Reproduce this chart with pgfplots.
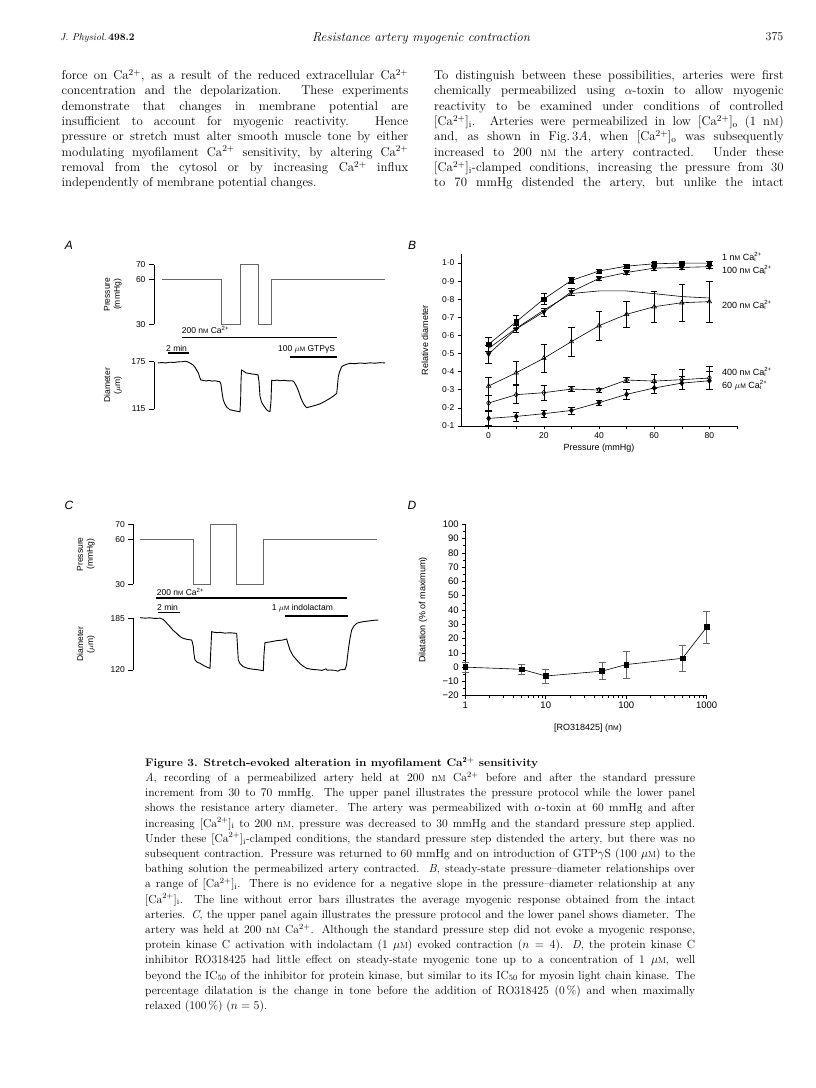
\documentclass[border=0pt]{standalone}
\usepackage{fontspec}
\usepackage{graphicx}
\usepackage{pgfplots}
\pgfplotsset{compat=1.18}
\newfontfamily\figfont{Liberation Sans}
\newcommand\scm{\scalebox{0.75}{M}}
\newcommand\Cai{Ca\rlap{\textsuperscript{2+}}\textsubscript{i}}
\newcommand\jline[2]{\sbox0{#2}\ifdim\wd0>#1\relax\resizebox{#1}{\height}{#2}\else\makebox[#1][s]{#2}\fi}
\newcommand\bodyfont{\fontsize{12.8}{15}\selectfont}
\newcommand\capfont{\fontsize{11.7}{14}\selectfont}
\newcommand\ff{\figfont\fontsize{8.5}{10}\selectfont}
\pgfplotsset{
  trace/.style={scale only axis, axis x line=none, axis y line*=left, tick align=outside,
    major tick length=5pt, clip=false, enlargelimits=false,
    tick label style={font=\ff}, label style={font=\ff, align=center},
    axis line style={line width=0.6pt}, tick style={line width=0.6pt, black}},
  ebar/.style={error bars/.cd, y dir=both, y explicit,
    error bar style={line width=0.6pt}, error mark options={rotate=90, mark size=3.2pt, line width=0.6pt}},
}
\begin{document}
\begin{tikzpicture}
\useasboundingbox (0,0) rectangle (816pt,-1088pt);
\fill[white] (0,0) rectangle (816pt,-1088pt);

% ---------------- header ----------------
\node[anchor=base west, inner sep=0pt, font=\fontsize{10}{12}\selectfont] at (60pt,-40pt) {\textit{J. Physiol.}\,\textbf{498.2}};
\node[anchor=base, inner sep=0pt, font=\fontsize{13}{15}\selectfont\itshape] at (421pt,-41pt) {Resistance artery myogenic contraction};
\node[anchor=base east, inner sep=0pt, font=\fontsize{12}{14}\selectfont] at (783.5pt,-40pt) {375};

% ---------------- body text ----------------
\begin{scope}[every node/.style={anchor=base west, inner sep=0pt, font=\bodyfont}]
\node at (61.5pt,-79.5pt) {\jline{346.5pt}{force on Ca$^{2+}$, as a result of the reduced extracellular Ca$^{2+}$}};
\node at (61.5pt,-94.85pt) {\jline{346.5pt}{concentration and the depolarization. These experiments}};
\node at (61.5pt,-110.2pt) {\jline{346.5pt}{demonstrate that changes in membrane potential are}};
\node at (61.5pt,-125.55pt) {\jline{346.5pt}{insufficient to account for myogenic reactivity. Hence}};
\node at (61.5pt,-140.9pt) {\jline{346.5pt}{pressure or stretch must alter smooth muscle tone by either}};
\node at (61.5pt,-156.25pt) {\jline{346.5pt}{modulating myofilament Ca$^{2+}$ sensitivity, by altering Ca$^{2+}$}};
\node at (61.5pt,-171.6pt) {\jline{346.5pt}{removal from the cytosol or by increasing Ca$^{2+}$ influx}};
\node at (61.5pt,-186.95pt) {independently of membrane potential changes.};
\node at (434pt,-79.5pt) {\jline{349.5pt}{To distinguish between these possibilities, arteries were first}};
\node at (434pt,-94.85pt) {\jline{349.5pt}{chemically permeabilized using $\alpha$-toxin to allow myogenic}};
\node at (434pt,-110.2pt) {\jline{349.5pt}{reactivity to be examined under conditions of controlled}};
\node at (434pt,-125.55pt) {\jline{349.5pt}{[Ca$^{2+}$]$_\mathrm{i}$. Arteries were permeabilized in low [Ca$^{2+}$]$_\mathrm{o}$ (1 n\scm)}};
\node at (434pt,-140.9pt) {\jline{349.5pt}{and, as shown in Fig.\,3\textit{A}, when [Ca$^{2+}$]$_\mathrm{o}$ was subsequently}};
\node at (434pt,-156.25pt) {\jline{349.5pt}{increased to 200 n\scm{} the artery contracted. Under these}};
\node at (434pt,-171.6pt) {\jline{349.5pt}{[Ca$^{2+}$]$_\mathrm{i}$-clamped conditions, increasing the pressure from 30}};
\node at (434pt,-186.95pt) {\jline{349.5pt}{to 70 mmHg distended the artery, but unlike the intact}};
\end{scope}

% ---------------- panel letters ----------------
\begin{scope}[every node/.style={inner sep=0pt, font=\figfont\fontsize{12}{14}\selectfont\itshape}]
\node at (69pt,-245pt) {A};
\node at (412pt,-245pt) {B};
\node at (69pt,-505pt) {C};
\node at (412pt,-505pt) {D};
\end{scope}

% ---------------- Panel A ----------------
\begin{axis}[trace, at={(154pt,-324.3pt)}, anchor=south west, width=236pt, height=59.6pt,
  xmin=154, xmax=390, ymin=30, ymax=70, ytick={30,60,70}, yticklabels={30,60,70},
  ylabel={Pressure\\(mmHg)}, ylabel style={at={(axis description cs:-0.174,0.5)}, anchor=center}]
\addplot[black!60, line width=0.7pt] coordinates {(162,60) (221,60) (221,30) (240,30) (240,70) (258,70) (258,30) (271,30) (271,60) (385,60)};
\end{axis}
\begin{axis}[trace, at={(154pt,-409pt)}, anchor=south west, width=236pt, height=47.3pt,
  xmin=154, xmax=390, ymin=115, ymax=175, ytick={115,175}, yticklabels={115,175},
  ylabel={Diameter\\($\mu$m)}, ylabel style={at={(axis description cs:-0.174,0.5)}, anchor=center}]
\addplot[black, line width=0.9pt] coordinates {(158,173.5) (162,173.9) (166,173.4) (170,174.4) (174,174.0) (178,174.8) (182,175.0) (185,175.6) (187,175.2) (189,174.0) (191,172.5) (193,170.8) (195,168) (197,163.5) (198.5,160.5) (199.5,156) (200.7,152) (203,151.2) (206,150.6) (209,151.3) (212,150.4) (215,150.9) (218,150.0) (220,149.6) (221,146) (221.7,139) (222.5,132) (223.3,126.4) (225,121) (227,117) (230,114) (233,113.2) (236,112.4) (239,111.8) (240,111.4) (240.7,130) (241,150) (241.5,164.4) (243,163.5) (246,160.8) (249,160.2) (252,159.4) (255,159.0) (258,158.4) (259,150) (260,131) (261.5,124) (263.3,120) (266,115) (268,112.5) (270,111.8) (271,125) (271.7,151.5) (274,151.0) (277,151.7) (280,150.8) (284,151.4) (288,150.6) (292,150.9) (294,149.5) (296.7,143.3) (299,136) (301,128.5) (303.3,122.2) (305,119) (306.7,116.7) (310,117.8) (315,119.5) (320,121.5) (325,124.8) (330,128.5) (334,132) (336.7,134.9) (337.5,145) (338.3,156) (339.5,162) (341.7,168.7) (344,170.5) (347,171.9) (350,172.9) (355,172.5) (360,173.4) (365,172.8) (370,173.6) (375,173.1) (380,173.8) (385,173.5)};
\end{axis}
\begin{scope}[every node/.style={anchor=base west, inner sep=0pt, font=\ff}]
\node at (181.7pt,-333.3pt) {200 n\scm{} Ca\textsuperscript{2+}};
\draw[line width=1.3pt] (181.7pt,-337.7pt) -- (337.3pt,-337.7pt);
\node at (166pt,-351pt) {2 min};
\draw[line width=1.3pt] (168.3pt,-353pt) -- (189.3pt,-353pt);
\node at (278pt,-351pt) {100 $\mu$\scm{} GTPγS};
\draw[line width=1.3pt] (290pt,-357pt) -- (336.7pt,-357pt);
\end{scope}

% ---------------- Panel C ----------------
\begin{axis}[trace, at={(133.3pt,-584.3pt)}, anchor=south west, width=246.7pt, height=60pt,
  xmin=133.3, xmax=380, ymin=30, ymax=70, ytick={30,60,70}, yticklabels={30,60,70},
  ylabel={Pressure\\(mmHg)}, ylabel style={at={(axis description cs:-0.192,0.5)}, anchor=center}]
\addplot[black!60, line width=0.7pt] coordinates {(140,60) (193.3,60) (193.3,30) (210,30) (210,70) (236.7,70) (236.7,30) (263.3,30) (263.3,60) (376.7,60)};
\end{axis}
\begin{axis}[trace, at={(133.3pt,-670pt)}, anchor=south west, width=246.7pt, height=51.7pt,
  xmin=133.3, xmax=380, ymin=120, ymax=185, ytick={120,185}, yticklabels={120,185},
  ylabel={Diameter\\($\mu$m)}, ylabel style={at={(axis description cs:-0.192,0.5)}, anchor=center}]
\addplot[black, line width=0.9pt] coordinates {(140,185.8) (145,185.2) (150,185.6) (155,184.8) (160,185.2) (163.3,183.5) (166,180) (170,174.5) (173,170) (176.7,166.1) (180,162) (183.3,159.8) (187,158.5) (191.7,157.7) (192.5,154) (193.3,149.4) (194,140) (195,132.6) (197,130) (200,128.4) (204,125.5) (207,123.5) (210,122.1) (210.8,145) (211.7,168.2) (214,167.5) (216.7,167) (220,167.3) (225,166.4) (230,166.8) (236.7,166.1) (237.5,150) (238.3,132.6) (240,128) (243.3,124.2) (248,122) (253,121) (258,120.3) (263.3,119.2) (264,140) (265,154.4) (270,155.3) (276.7,156.9) (282,157.5) (286.7,159) (288,153) (290,145.2) (293,138) (296.7,132.6) (300,128) (303,125) (306.7,122.1) (312,120.8) (318,120.2) (322,119.5) (326,121.5) (327,119.8) (330,120) (335,119.6) (338,118.5) (340,120.2) (345,120.8) (346.5,126) (348.3,145.2) (350,160) (351.7,170.3) (354,175.5) (356.7,178.7) (360,180) (363.3,180.8) (368,181.5) (373,182.4) (378.3,182.9)};
\end{axis}
\begin{scope}[every node/.style={anchor=base west, inner sep=0pt, font=\ff}]
\node at (156.7pt,-595pt) {200 n\scm{} Ca\textsuperscript{2+}};
\draw[line width=1.3pt] (156pt,-598pt) -- (346.7pt,-598pt);
\node at (157pt,-610pt) {2 min};
\draw[line width=1.3pt] (158.3pt,-612.3pt) -- (180pt,-612.3pt);
\node at (271.7pt,-610pt) {1 $\mu$\scm{} indolactam};
\draw[line width=1.3pt] (285pt,-616pt) -- (347.7pt,-616pt);
\end{scope}

% ---------------- Panel B ----------------
\begin{axis}[at={(461pt,-426pt)}, anchor=south west, scale only axis, width=276pt, height=172pt,
  xmin=-10, xmax=90, ymin=0.1, ymax=1.05, enlargelimits=false, clip=false,
  axis x line*=bottom, axis y line*=left, tick align=outside,
  major tick length=3pt, minor tick length=3pt,
  xtick={0,20,40,60,80}, xticklabels={0,20,40,60,80}, minor xtick={10,30,50,70,90},
  ytick={0.1,0.2,0.3,0.4,0.5,0.6,0.7,0.8,0.9,1.0},
  yticklabels={0·1,0·2,0·3,0·4,0·5,0·6,0·7,0·8,0·9,1·0},
  tick label style={font=\ff}, label style={font=\figfont\fontsize{9}{10}\selectfont},
  tick style={line width=0.6pt, black}, axis line style={line width=0.6pt},
  xlabel={Pressure (mmHg)}, xlabel style={at={(axis description cs:0.5,-0.126)}, anchor=center},
  ylabel={Relative diameter}, ylabel style={at={(axis description cs:-0.1304,0.5)}, anchor=center},
]
% myogenic response (no error bars)
\addplot[black, line width=0.6pt] table {
x y
0 0.529
10 0.639
20 0.740
30 0.832
40 0.846
50 0.846
60 0.831
70 0.815
80 0.807
};
% 60 uM
\addplot[black, line width=0.6pt, mark=diamond*, mark size=2.6pt, mark options={fill=black}, ebar] table[x=x, y=y, y error=e] {
x y e
0 0.142 0.04
10 0.153 0.025
20 0.168 0.02
30 0.186 0.02
40 0.229 0.015
50 0.275 0.03
60 0.310 0.03
70 0.337 0.035
80 0.350 0.05
};
% 400 nM
\addplot[black, line width=0.6pt, mark=diamond, mark size=2.6pt, mark options={fill=white}, ebar] table[x=x, y=y, y error=e] {
x y e
0 0.227 0.04
10 0.273 0.05
20 0.284 0.04
30 0.304 0.015
40 0.299 0.012
50 0.354 0.015
60 0.348 0.04
70 0.356 0.055
80 0.365 0.065
};
% 200 nM
\addplot[black, line width=0.6pt, mark=triangle, mark size=2.6pt, mark options={fill=white}, ebar] table[x=x, y=y, y error=e] {
x y e
0 0.321 0.05
10 0.394 0.065
20 0.474 0.078
30 0.566 0.08
40 0.654 0.08
50 0.717 0.073
60 0.759 0.085
70 0.781 0.10
80 0.787 0.115
};
% 100 nM
\addplot[black, line width=0.6pt, mark=triangle*, mark size=2.6pt, mark options={fill=black, rotate=180}, ebar] table[x=x, y=y, y error=e] {
x y e
0 0.498 0.05
10 0.636 0.02
20 0.730 0.022
30 0.842 0.02
40 0.915 0.012
50 0.948 0.01
60 0.972 0.01
70 0.976 0.01
80 0.980 0.01
};
% 1 nM
\addplot[black, line width=0.6pt, mark=square*, mark size=2.2pt, mark options={fill=black}, ebar] table[x=x, y=y, y error=e] {
x y e
0 0.551 0.04
10 0.676 0.035
20 0.801 0.03
30 0.904 0.015
40 0.956 0.012
50 0.983 0.01
60 0.996 0.01
70 1.000 0.01
80 1.000 0.01
};
\end{axis}
\begin{scope}[every node/.style={anchor=west, inner sep=0pt, font=\figfont\fontsize{9}{10}\selectfont}]
\node at (722pt,-256.7pt) {1 n\scm{} \Cai};
\node at (722pt,-270pt) {100 n\scm{} \Cai};
\node at (722pt,-305pt) {200 n\scm{} \Cai};
\node at (722pt,-371.7pt) {400 n\scm{} \Cai};
\node at (722pt,-385pt) {60 $\mu$\scm{} \Cai};
\end{scope}

% ---------------- Panel D ----------------
\begin{axis}[at={(465.3pt,-695.7pt)}, anchor=south west, scale only axis, width=241.4pt, height=171.4pt,
  xmode=log, xmin=1, xmax=1000, ymin=-20, ymax=100, enlargelimits=false, clip=false,
  axis x line*=bottom, axis y line*=left, tick align=outside,
  major tick length=3pt, minor tick length=2pt,
  xtick={1,10,100,1000}, xticklabels={1,10,100,1000},
  minor xtick={2,3,4,5,6,7,8,9,20,30,40,50,60,70,80,90,200,300,400,500,600,700,800,900},
  ytick={-20,-10,0,10,20,30,40,50,60,70,80,90,100},
  yticklabels={−20,−10,0,10,20,30,40,50,60,70,80,90,100},
  minor ytick={-15,-5,5,15,25,35,45,55,65,75,85,95},
  tick label style={font=\figfont\fontsize{9.5}{11}\selectfont},
  label style={font=\figfont\fontsize{9}{10}\selectfont},
  tick style={line width=0.6pt, black}, axis line style={line width=0.6pt},
  xlabel={[RO318425] (n\scm)}, xlabel style={at={(axis description cs:0.508,-0.1885)}, anchor=center},
  ylabel={Dilatation (\% of maximum)}, ylabel style={at={(axis description cs:-0.175,0.5)}, anchor=center},
]
\addplot[black, line width=0.6pt, mark=square*, mark size=2.4pt, mark options={fill=black},
  error bars/.cd, y dir=both, y explicit, error bar style={line width=0.6pt, black!60},
  error mark options={rotate=90, mark size=3.5pt, line width=0.6pt, black!60}] table[x=x, y=y, y error=e] {
x y e
1 0.0 3.5
5 -1.5 3.5
10 -6.2 5
50 -2.8 6
100 1.8 9.5
500 6.2 8.8
1000 28.0 11
};
\end{axis}

% ---------------- caption ----------------
\node[anchor=base west, inner sep=0pt, font=\fontsize{11}{14}\selectfont] at (145pt,-766pt) {\resizebox{393pt}{\height}{\textbf{Figure 3. Stretch-evoked alteration in myofilament Ca$^{\mathbf{2+}}$ sensitivity}}};
\begin{scope}[every node/.style={anchor=base west, inner sep=0pt, font=\capfont}]
\node at (145pt,-781.5pt) {\jline{550pt}{\textit{A}, recording of a permeabilized artery held at 200 n\scm{} Ca$^{2+}$ before and after the standard pressure}};
\node at (145pt,-796.7pt) {\jline{550pt}{increment from 30 to 70 mmHg. The upper panel illustrates the pressure protocol while the lower panel}};
\node at (145pt,-811.9pt) {\jline{550pt}{shows the resistance artery diameter. The artery was permeabilized with $\alpha$-toxin at 60 mmHg and after}};
\node at (145pt,-827.1pt) {\jline{550pt}{increasing [Ca$^{2+}$]$_\mathrm{i}$ to 200 n\scm, pressure was decreased to 30 mmHg and the standard pressure step applied.}};
\node at (145pt,-842.3pt) {\jline{550pt}{Under these [Ca$^{2+}$]$_\mathrm{i}$-clamped conditions, the standard pressure step distended the artery, but there was no}};
\node at (145pt,-857.5pt) {\jline{550pt}{subsequent contraction. Pressure was returned to 60 mmHg and on introduction of GTP$\gamma$S (100 $\mu$\scm) to the}};
\node at (145pt,-872.7pt) {\jline{550pt}{bathing solution the permeabilized artery contracted. \textit{B}, steady-state pressure--diameter relationships over}};
\node at (145pt,-887.9pt) {\jline{550pt}{a range of [Ca$^{2+}$]$_\mathrm{i}$. There is no evidence for a negative slope in the pressure--diameter relationship at any}};
\node at (145pt,-903.1pt) {\jline{550pt}{[Ca$^{2+}$]$_\mathrm{i}$. The line without error bars illustrates the average myogenic response obtained from the intact}};
\node at (145pt,-918.3pt) {\jline{550pt}{arteries. \textit{C}, the upper panel again illustrates the pressure protocol and the lower panel shows diameter. The}};
\node at (145pt,-933.5pt) {\jline{550pt}{artery was held at 200 n\scm{} Ca$^{2+}$. Although the standard pressure step did not evoke a myogenic response,}};
\node at (145pt,-948.7pt) {\jline{550pt}{protein kinase C activation with indolactam (1 $\mu$\scm) evoked contraction ($n = 4$). \textit{D}, the protein kinase C}};
\node at (145pt,-963.9pt) {\jline{550pt}{inhibitor RO318425 had little effect on steady-state myogenic tone up to a concentration of 1 $\mu$\scm, well}};
\node at (145pt,-979.1pt) {\jline{550pt}{beyond the IC$_{50}$ of the inhibitor for protein kinase, but similar to its IC$_{50}$ for myosin light chain kinase. The}};
\node at (145pt,-994.3pt) {\jline{550pt}{percentage dilatation is the change in tone before the addition of RO318425 (0\,\%) and when maximally}};
\node at (145pt,-1009.5pt) {relaxed (100\,\%) ($n = 5$).};
\end{scope}
\end{tikzpicture}
\end{document}
